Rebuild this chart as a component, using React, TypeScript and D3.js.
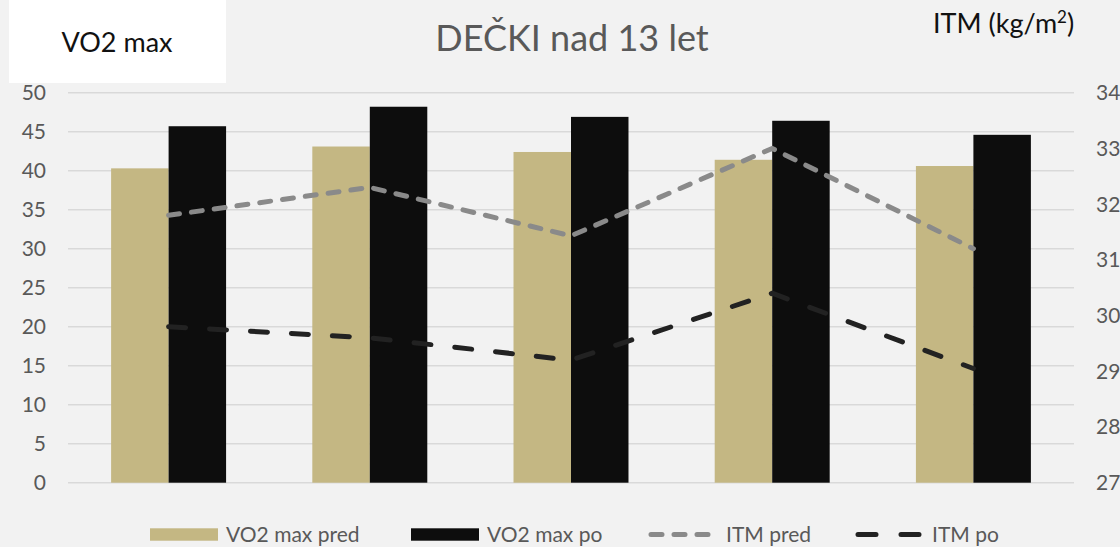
import React from "react";
import * as d3 from "d3";

const categories = ["1", "2", "3", "4", "5"];
const vo2Pred = [40.3, 43.1, 42.4, 41.4, 40.6];
const vo2Po = [45.7, 48.2, 46.9, 46.4, 44.6];
const itmPred = [31.8, 32.3, 31.43, 33.0, 31.2];
const itmPo = [29.8, 29.6, 29.2, 30.4, 29.05];
const leftTicks = [0, 5, 10, 15, 20, 25, 30, 35, 40, 45, 50];
const rightTicks = [27, 28, 29, 30, 31, 32, 33, 34];
const barSeries = ["VO2 max pred", "VO2 max po"];

const W = 1120;
const H = 547;
const FONT = "Lato, 'Open Sans', sans-serif";
const TAN = "#c4b783";
const BLACK = "#0d0d0d";
const GREY_LINE = "#8a8a8a";
const DARK_LINE = "#222222";
const TEXT = "#595959";

export default function App() {
  const left = 68, right = 1074, top = 92.7, bottom = 482.7;
  const x = d3.scaleBand<string>().domain(categories).range([left, right]).padding(0);
  const xs = d3.scaleBand<string>().domain(barSeries).range([0, x.bandwidth()]).paddingInner(0).paddingOuter(0.75);
  const yL = d3.scaleLinear().domain([0, 50]).range([bottom, top]);
  const yR = d3.scaleLinear().domain([27, 34]).range([bottom, top]);
  const cx = (c: string) => (x(c) as number) + x.bandwidth() / 2;

  const lineGen = d3.line<number>().x((_, i) => cx(categories[i])).y((d) => yR(d));
  const barVals = [vo2Pred, vo2Po];
  const barColors = [TAN, BLACK];

  return (
    <svg width={W} height={H} style={{ position: "absolute", left: 0, top: 0, display: "block" }} fontFamily={FONT}>
      <rect x={0} y={0} width={W} height={H} fill="#f2f2f2" />
      {leftTicks.map((t) => (
        <line key={t} x1={left} x2={right} y1={yL(t)} y2={yL(t)} stroke="#d9d9d9" strokeWidth={1.5} />
      ))}
      {barSeries.map((s, si) =>
        categories.map((c, ci) => (
          <rect
            key={s + c}
            x={(x(c) as number) + (xs(s) as number)}
            y={yL(barVals[si][ci])}
            width={xs.bandwidth()}
            height={bottom - yL(barVals[si][ci])}
            fill={barColors[si]}
          />
        ))
      )}
      <path d={lineGen(itmPred) || ""} fill="none" stroke={GREY_LINE} strokeWidth={5} strokeDasharray="11 12" strokeLinecap="round" />
      <path d={lineGen(itmPo) || ""} fill="none" stroke={DARK_LINE} strokeWidth={5} strokeDasharray="17 24" strokeLinecap="round" />
      {leftTicks.map((t) => (
        <text key={t} x={46} y={yL(t) + 7.5} textAnchor="end" fontSize={21} fill={TEXT}>
          {t}
        </text>
      ))}
      {rightTicks.map((t) => (
        <text key={t} x={1096} y={yR(t) + 7.5} textAnchor="start" fontSize={21} fill={TEXT}>
          {t}
        </text>
      ))}
      <rect x={9} y={0} width={217} height={83} fill="#ffffff" />
      <text x={117} y={51.7} textAnchor="middle" fontSize={27} fill="#111">
        VO2 max
      </text>
      <text x={572} y={51} textAnchor="middle" fontSize={36} fill={TEXT}>
        DEČKI nad 13 let
      </text>
      <text x={933} y={33.3} fontSize={27} fill="#111">
        ITM (kg/m<tspan dy={-10} fontSize={17}>2</tspan>
        <tspan dy={10}>)</tspan>
      </text>
      <rect x={150} y={528.3} width={68} height={12.4} fill={TAN} />
      <text x={226} y={541.5} fontSize={21} fill={TEXT}>VO2 max pred</text>
      <rect x={411} y={528.3} width={68} height={12.4} fill={BLACK} />
      <text x={487} y={541.5} fontSize={21} fill={TEXT}>VO2 max po</text>
      <line x1={651} x2={713} y1={534.5} y2={534.5} stroke={GREY_LINE} strokeWidth={5} strokeDasharray="11 12" strokeLinecap="round" />
      <text x={726} y={541.5} fontSize={21} fill={TEXT}>ITM pred</text>
      <line x1={858} x2={920} y1={534.5} y2={534.5} stroke={DARK_LINE} strokeWidth={5} strokeDasharray="18 25" strokeLinecap="round" />
      <text x={932} y={541.5} fontSize={21} fill={TEXT}>ITM po</text>
    </svg>
  );
}
